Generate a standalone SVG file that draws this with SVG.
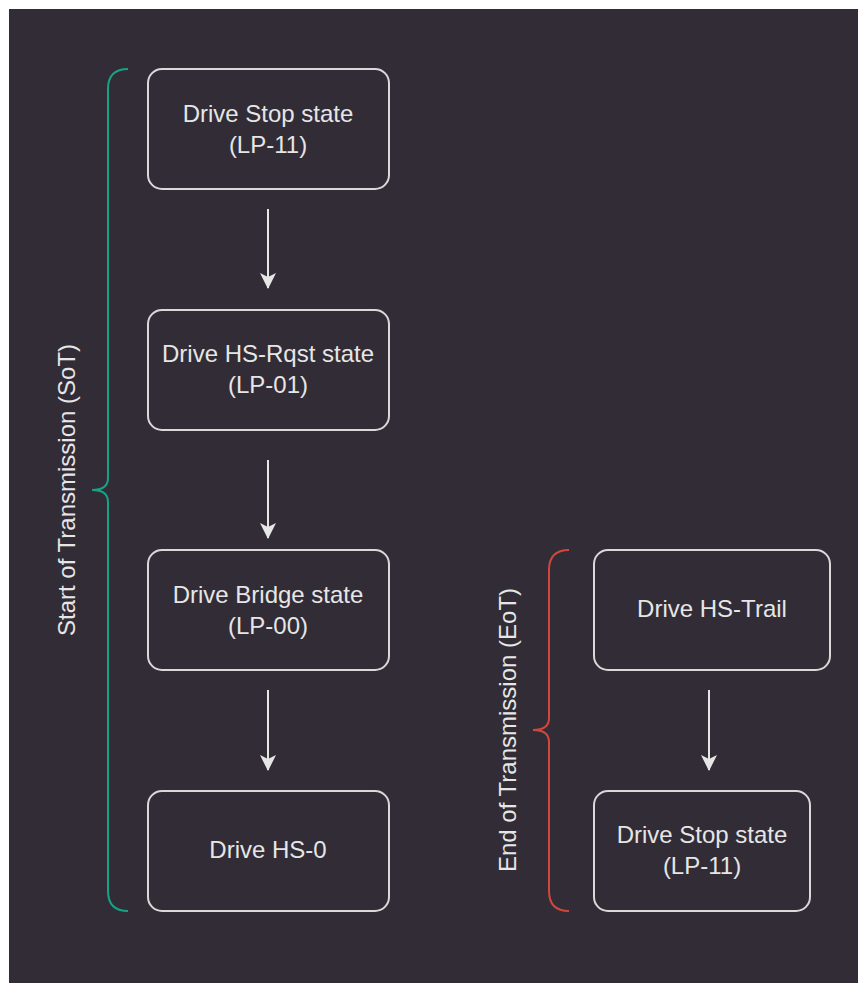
<svg xmlns="http://www.w3.org/2000/svg" width="858" height="983" viewBox="0 0 858 983">
<style>
.box{fill:none;stroke:#d9d9d9;stroke-width:2}
.t{font-family:"Liberation Sans",Arial,sans-serif;font-size:24px;fill:#e6e6e6;text-anchor:middle}
.ar{stroke:#e6e6e6;stroke-width:2;fill:none}
</style>
<defs>
<marker id="ah" markerWidth="16" markerHeight="16" refX="15" refY="8" orient="auto" markerUnits="userSpaceOnUse" viewBox="0 0 16 16">
<path d="M0,0 L16,8 L0,16 L4,8 Z" fill="#e6e6e6"/>
</marker>
</defs>
<rect width="858" height="983" fill="#ffffff"/>
<rect x="9" y="9" width="849" height="974" fill="#312c36"/>
<g id="connectors">
<path class="ar" d="M268,209 V288" marker-end="url(#ah)"/>
<path class="ar" d="M268,460 V538" marker-end="url(#ah)"/>
<path class="ar" d="M268,690 V770" marker-end="url(#ah)"/>
<path class="ar" d="M709,690 V770" marker-end="url(#ah)"/>
</g>
<g id="n1"><rect class="box" x="148" y="69" width="241" height="120" rx="14"/><text class="t" x="268" y="122">Drive Stop state</text><text class="t" x="268" y="153">(LP-11)</text></g>
<g id="n2"><rect class="box" x="148" y="310" width="241" height="120" rx="14"/><text class="t" x="268" y="362">Drive HS-Rqst state</text><text class="t" x="268" y="393">(LP-01)</text></g>
<g id="n3"><rect class="box" x="148" y="550" width="241" height="120" rx="14"/><text class="t" x="268" y="603">Drive Bridge state</text><text class="t" x="268" y="634">(LP-00)</text></g>
<g id="n4"><rect class="box" x="148" y="791" width="241" height="120" rx="14"/><text class="t" x="268" y="858">Drive HS-0</text></g>
<g id="n5"><rect class="box" x="594" y="550" width="236" height="120" rx="14"/><text class="t" x="712" y="617">Drive HS-Trail</text></g>
<g id="n6"><rect class="box" x="594" y="791" width="216" height="120" rx="14"/><text class="t" x="702" y="843">Drive Stop state</text><text class="t" x="702" y="874">(LP-11)</text></g>
<g id="sot">
<path d="M128,69 Q108,69 108,89 V478 Q108,490 92,490 Q108,490 108,502 V891 Q108,911 128,911" fill="none" stroke="#17a286" stroke-width="2"/>
<text class="t" transform="translate(75,490) rotate(-90)">Start of Transmission (SoT)</text>
</g>
<g id="eot">
<path d="M569,550 Q549,550 549,570 V718 Q549,730 533,730 Q549,730 549,742 V891 Q549,911 569,911" fill="none" stroke="#d1473b" stroke-width="2"/>
<text class="t" transform="translate(516,730) rotate(-90)">End of Transmission (EoT)</text>
</g>
</svg>
